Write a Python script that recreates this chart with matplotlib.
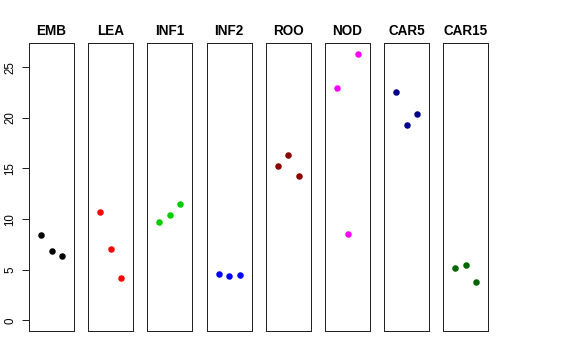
import matplotlib
matplotlib.use("Agg")
import matplotlib.pyplot as plt

plt.rcParams['font.family'] = ['Liberation Sans', 'DejaVu Sans']

groups = ["EMB", "LEA", "INF1", "INF2", "ROO", "NOD", "CAR5", "CAR15"]
colors = ["black", "#FF0000", "#00CD00", "#0000FF", "#8B0000", "#FF00FF", "#00008B", "#006400"]
values = {
    "EMB":   [8.40, 6.85, 6.32],
    "LEA":   [10.74, 7.00, 4.15],
    "INF1":  [9.75, 10.44, 11.46],
    "INF2":  [4.57, 4.41, 4.48],
    "ROO":   [15.25, 16.30, 14.23],
    "NOD":   [22.98, 8.50, 26.34],
    "CAR5":  [22.53, 19.27, 20.36],
    "CAR15": [5.14, 5.43, 3.75],
}
yticks = [0, 5, 10, 15, 20, 25]

W, H = 576, 360
fig = plt.figure(figsize=(W / 72, H / 72), dpi=72)

ymax = max(max(v) for v in values.values())
ylo, yhi = 0 - 0.04 * ymax, ymax + 0.04 * ymax
xlo, xhi = 0 - 0.16, 4 + 0.16

top, bottom = 43, 331
for i, (g, c) in enumerate(zip(groups, colors)):
    left = 29 + 59.2 * i
    ax = fig.add_axes([left / W, 1 - bottom / H, 45 / W, (bottom - top) / H])
    vals = values[g]
    ax.plot([1, 2, 3], vals, 'o', color=c, ms=6.5, mec='none', ls='none')
    ax.set_xlim(xlo, xhi)
    ax.set_ylim(ylo, yhi)
    ax.set_xticks([])
    for s in ax.spines.values():
        s.set_linewidth(1)
        s.set_color('#222222')
    ax.set_title(g, fontsize=13.5, fontweight='bold', pad=8)
    if i == 0:
        ax.set_yticks(yticks)
        ax.set_yticklabels([str(t) for t in yticks], rotation=90, va='center', fontsize=11.5)
        ax.tick_params(axis='y', length=7, width=1, pad=6, color='#222222')
    else:
        ax.set_yticks([])

fig.savefig("out.png", dpi=72)
